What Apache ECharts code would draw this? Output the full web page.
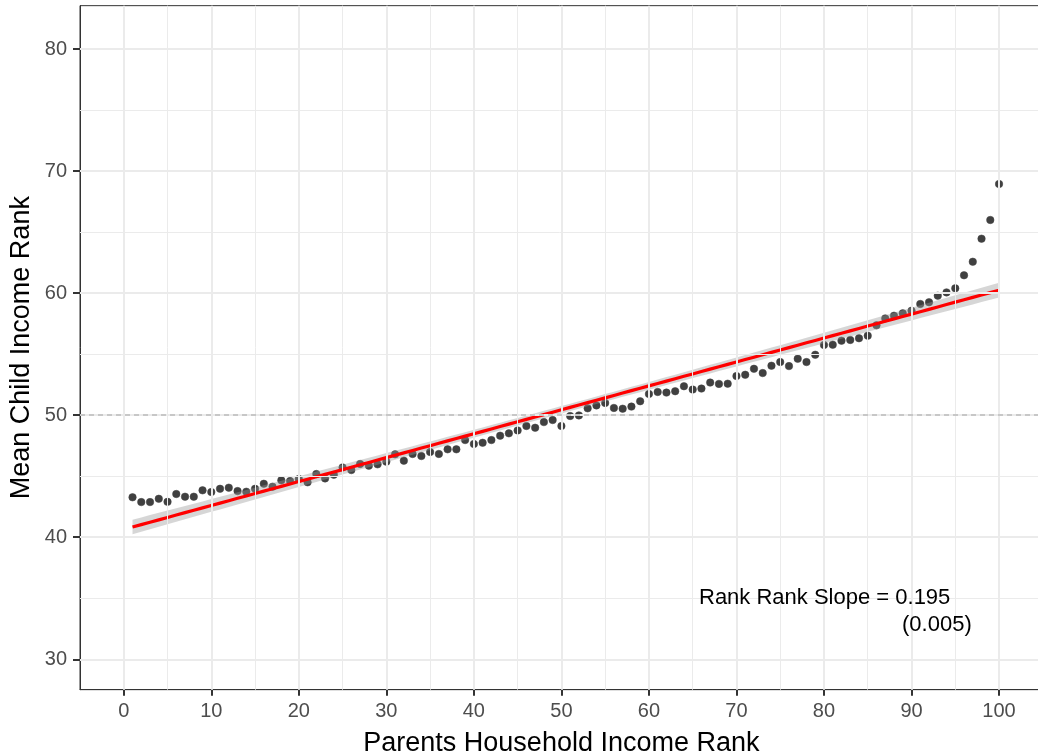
<!DOCTYPE html>
<html>
<head>
<meta charset="utf-8">
<script src="https://cdn.jsdelivr.net/npm/echarts@6/dist/echarts.min.js"></script>
<style>
  html, body { margin: 0; padding: 0; background: #ffffff; }
  #chart { width: 1038px; height: 756px; }
</style>
</head>
<body>
<div id="chart"></div>
<script>
// ---- data ----
const parentRank = [
  1, 2, 3, 4, 5, 6, 7, 8, 9, 10,
  11, 12, 13, 14, 15, 16, 17, 18, 19, 20,
  21, 22, 23, 24, 25, 26, 27, 28, 29, 30,
  31, 32, 33, 34, 35, 36, 37, 38, 39, 40,
  41, 42, 43, 44, 45, 46, 47, 48, 49, 50,
  51, 52, 53, 54, 55, 56, 57, 58, 59, 60,
  61, 62, 63, 64, 65, 66, 67, 68, 69, 70,
  71, 72, 73, 74, 75, 76, 77, 78, 79, 80,
  81, 82, 83, 84, 85, 86, 87, 88, 89, 90,
  91, 92, 93, 94, 95, 96, 97, 98, 99, 100
];
const childRank = [
  43.27, 42.88, 42.88, 43.15, 42.90, 43.54, 43.32, 43.32, 43.84, 43.70,
  43.97, 44.06, 43.78, 43.73, 43.97, 44.38, 44.14, 44.66, 44.60, 44.77,
  44.50, 45.18, 44.82, 45.12, 45.72, 45.50, 46.00, 45.86, 45.97, 46.19,
  46.79, 46.27, 46.82, 46.65, 46.98, 46.82, 47.20, 47.20, 47.96, 47.64,
  47.74, 47.96, 48.32, 48.51, 48.75, 49.11, 48.97, 49.43, 49.60, 49.11,
  49.93, 49.98, 50.56, 50.80, 51.00, 50.59, 50.53, 50.70, 51.14, 51.74,
  51.90, 51.85, 51.96, 52.37, 52.10, 52.18, 52.67, 52.56, 52.58, 53.20,
  53.31, 53.80, 53.45, 54.05, 54.35, 54.02, 54.62, 54.35, 54.95, 55.75,
  55.77, 56.10, 56.16, 56.30, 56.51, 57.36, 57.93, 58.15, 58.34, 58.56,
  59.11, 59.25, 59.79, 60.06, 60.39, 61.46, 62.57, 64.46, 65.99, 68.94
];
const xTicks = [0, 10, 20, 30, 40, 50, 60, 70, 80, 90, 100];
const yTicks = [30, 40, 50, 60, 70, 80];
const xMinor = [5, 15, 25, 35, 45, 55, 65, 75, 85, 95];
const yMinor = [35, 45, 55, 65, 75];
const refLevel = 50;
const annotationLines = ['Rank Rank Slope = 0.195', '(0.005)'];
const xTitle = 'Parents Household Income Rank';
const yTitle = 'Mean Child Income Rank';

// ---- linear fit (like geom_smooth(method = "lm")) ----
const n = parentRank.length;
const xbar = parentRank.reduce((s, v) => s + v, 0) / n;
const ybar = childRank.reduce((s, v) => s + v, 0) / n;
let sxx = 0, sxy = 0;
for (let i = 0; i < n; i++) {
  sxx += (parentRank[i] - xbar) ** 2;
  sxy += (parentRank[i] - xbar) * (childRank[i] - ybar);
}
const slope = sxy / sxx;
const intercept = ybar - slope * xbar;
let rss = 0;
for (let i = 0; i < n; i++) {
  const r = childRank[i] - (intercept + slope * parentRank[i]);
  rss += r * r;
}
const s2 = rss / (n - 2);
const tcrit = 1.9845;
const fitData = parentRank.map(x => [x, intercept + slope * x]);
const bandData = parentRank.map(x => {
  const f = intercept + slope * x;
  const se = Math.sqrt(s2 * (1 / n + (x - xbar) ** 2 / sxx));
  return [x, f - tcrit * se, f + tcrit * se];
});

const FONT = 'Liberation Sans, Arial, sans-serif';
const GRID_COLOR = '#ebebeb';

const gridLines = []
  .concat(xMinor.map(v => ({ xAxis: v, lineStyle: { color: GRID_COLOR, width: 1, type: 'solid' } })))
  .concat(yMinor.map(v => ({ yAxis: v, lineStyle: { color: GRID_COLOR, width: 1, type: 'solid' } })))
  .concat(xTicks.map(v => ({ xAxis: v, lineStyle: { color: GRID_COLOR, width: 2, type: 'solid' } })))
  .concat(yTicks.map(v => ({ yAxis: v, lineStyle: { color: GRID_COLOR, width: 2, type: 'solid' } })))
  .concat([{ yAxis: refLevel, lineStyle: { color: '#bcbcbc', width: 1.5, type: [5, 4] } }]);

const chart = echarts.init(document.getElementById('chart'), null, { renderer: 'canvas' });
chart.setOption({
  animation: false,
  backgroundColor: '#ffffff',
  grid: {
    show: true,
    left: 80, top: 5.67, right: -4.8, bottom: 66.33,
    outerBoundsMode: 'none',
    containLabel: false,
    borderColor: '#333333', borderWidth: 1,
    backgroundColor: 'transparent'
  },
  xAxis: {
    type: 'value', min: -5, max: 105,
    splitLine: { show: false },
    axisLine: { show: true, onZero: false, lineStyle: { color: '#333333', width: 1 } },
    axisTick: { show: true, customValues: xTicks, length: 6, lineStyle: { color: '#333333', width: 2 } },
    axisLabel: { customValues: xTicks, fontSize: 20, color: '#4d4d4d', margin: 12, fontFamily: FONT },
    name: xTitle, nameLocation: 'middle', nameGap: 40, nameMoveOverlap: false,
    nameTextStyle: { fontSize: 27, color: '#000000', fontFamily: FONT }
  },
  yAxis: {
    type: 'value', min: 27.51, max: 83.55,
    splitLine: { show: false },
    axisLine: { show: true, onZero: false, lineStyle: { color: '#333333', width: 1 } },
    axisTick: { show: true, customValues: yTicks, length: 7, lineStyle: { color: '#333333', width: 2 } },
    axisLabel: { customValues: yTicks, fontSize: 20, color: '#4d4d4d', margin: 13, fontFamily: FONT },
    name: yTitle, nameLocation: 'middle', nameGap: 45, nameMoveOverlap: false,
    nameTextStyle: { fontSize: 27, color: '#000000', fontFamily: FONT }
  },
  series: [
    {
      type: 'line', data: [], z: 1, silent: true,
      markLine: {
        silent: true, symbol: ['none', 'none'], label: { show: false },
        animation: false, data: gridLines
      }
    },
    {
      type: 'scatter', data: parentRank.map((x, i) => [x, childRank[i]]),
      symbol: 'circle', symbolSize: 7.5, z: 2, silent: true,
      itemStyle: { color: '#404040', borderColor: '#404040', borderWidth: 0.5, opacity: 1 }
    },
    {
      type: 'custom', data: bandData, z: 3, silent: true,
      encode: { x: 0, y: [1, 2] },
      renderItem: function (params, api) {
        if (params.dataIndex !== 0) return null;
        const pts = [];
        for (let i = 0; i < bandData.length; i++) pts.push(api.coord([bandData[i][0], bandData[i][2]]));
        for (let i = bandData.length - 1; i >= 0; i--) pts.push(api.coord([bandData[i][0], bandData[i][1]]));
        return { type: 'polygon', shape: { points: pts }, style: { fill: 'rgba(153,153,153,0.4)' } };
      }
    },
    {
      type: 'line', data: fitData, z: 4, silent: true,
      showSymbol: false, symbol: 'none',
      lineStyle: { color: '#ff0000', width: 3.2 }
    }
  ],
  graphic: [
    { type: 'text', x: 699, y: 587, z: 10,
      style: { text: annotationLines[0], fontSize: 22, fontFamily: FONT, fill: '#000000', verticalAlign: 'top', align: 'left' } },
    { type: 'text', x: 902, y: 614, z: 10,
      style: { text: annotationLines[1], fontSize: 22, fontFamily: FONT, fill: '#000000', verticalAlign: 'top', align: 'left' } }
  ]
});
</script>
</body>
</html>
